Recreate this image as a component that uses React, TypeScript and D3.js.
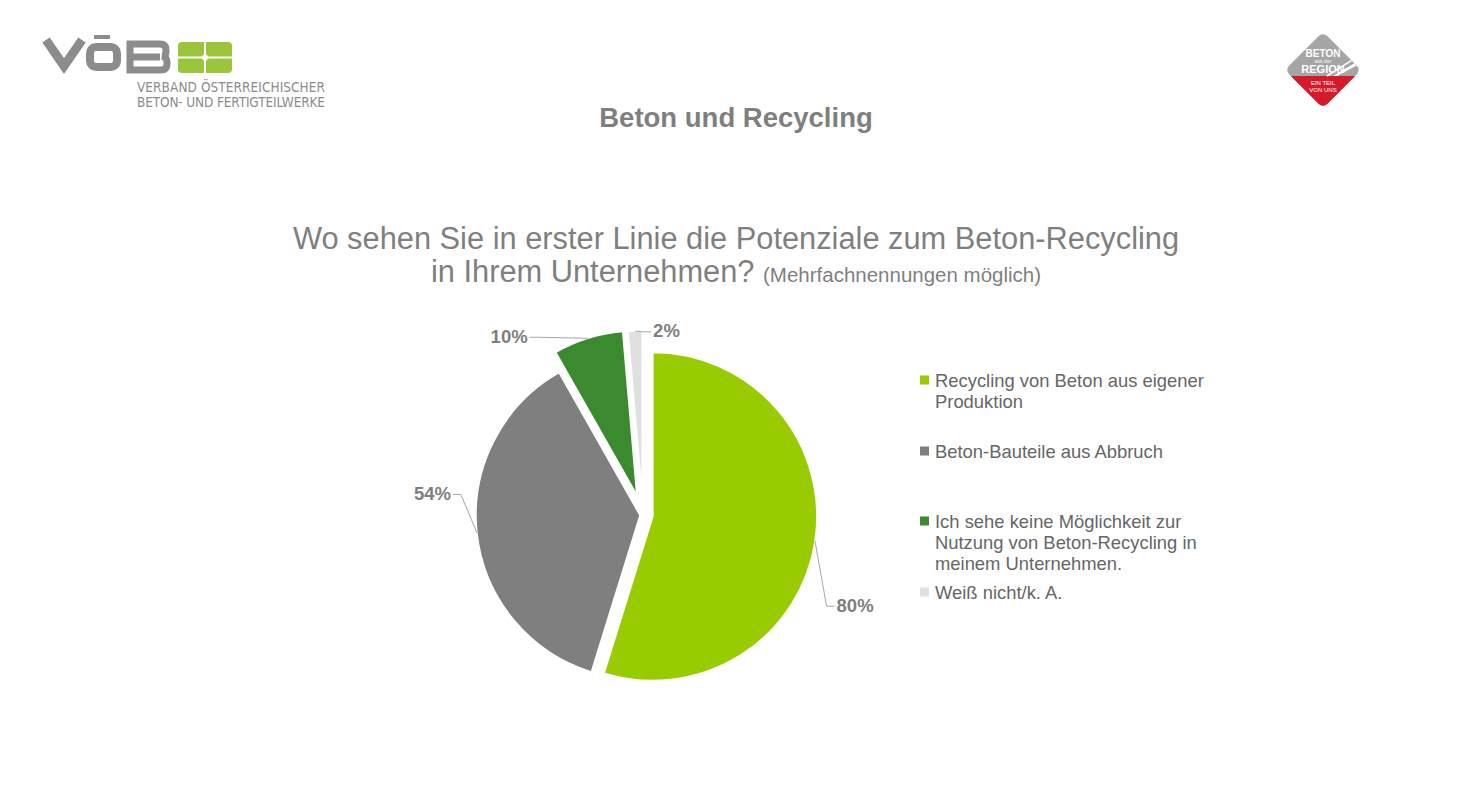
import React, { useRef, useEffect } from "react";
import * as d3 from "d3";

// survey answers (multiple answers possible)
const categories = [
  "Recycling von Beton aus eigener Produktion",
  "Beton-Bauteile aus Abbruch",
  "Ich sehe keine Möglichkeit zur Nutzung von Beton-Recycling in meinem Unternehmen.",
  "Weiß nicht/k. A.",
];
const values = [80, 54, 10, 2];
const valueLabels = ["80%", "54%", "10%", "2%"];
const legendLines = [
  ["Recycling von Beton aus eigener", "Produktion"],
  ["Beton-Bauteile aus Abbruch"],
  ["Ich sehe keine Möglichkeit zur", "Nutzung von Beton-Recycling in", "meinem Unternehmen."],
  ["Weiß nicht/k. A."],
];

// styling
const colors = ["#99cc00", "#7f7f7f", "#3b8a2f", "#e0e0e0"];
const explode = [10, 3, 21, 20];
const labelAngleShift = [17.8, 12.6, -13.4, 2.5]; // degrees
const labelRadiusFactor = [1.25, 1.117, 1.26, 1.117];
const legendTops = [380, 451, 521, 592];

const FONT = "'Liberation Sans', Arial, sans-serif";
const W = 1476;
const H = 785;

const App: React.FC = () => {
  const ref = useRef<SVGSVGElement | null>(null);

  useEffect(() => {
    document.body.style.margin = "0";
    const svg = d3.select(ref.current);
    svg.selectAll("*").remove();
    svg.attr("width", W).attr("height", H);

    svg.append("rect").attr("width", W).attr("height", H).attr("fill", "#ffffff");

    // ---- VÖB logo (left)
    const logo = svg.append("g");
    const logoGray = "#8c8c8c";
    logo
      .append("polyline")
      .attr("points", "46,40 64,66 82,40")
      .attr("fill", "none")
      .attr("stroke", logoGray)
      .attr("stroke-width", 9)
      .attr("stroke-linejoin", "miter");
    logo
      .append("rect")
      .attr("x", 90)
      .attr("y", 47)
      .attr("width", 27)
      .attr("height", 20)
      .attr("rx", 6)
      .attr("fill", "none")
      .attr("stroke", logoGray)
      .attr("stroke-width", 8);
    logo.append("rect").attr("x", 94).attr("y", 35).attr("width", 16).attr("height", 4).attr("fill", logoGray);
    logo
      .append("path")
      .attr("d", "M130,44 H160 Q166,44 166,50 V52 Q166,56 162,56 Q167,57 167,62 V64 Q167,70 161,70 H130 Z M130,57 H160")
      .attr("fill", "none")
      .attr("stroke", logoGray)
      .attr("stroke-width", 7);
    logo
      .append("rect")
      .attr("x", 178)
      .attr("y", 42)
      .attr("width", 54)
      .attr("height", 31)
      .attr("rx", 4)
      .attr("fill", "#9bc63b");
    logo.append("rect").attr("x", 204).attr("y", 42).attr("width", 2).attr("height", 31).attr("fill", "#fff");
    logo.append("rect").attr("x", 178).attr("y", 56.5).attr("width", 54).attr("height", 2).attr("fill", "#fff");
    logo
      .append("path")
      .attr("d", "M205,53 L209,57.5 L205,62 L201,57.5 Z")
      .attr("fill", "#fff");
    logo
      .append("text")
      .attr("x", 137)
      .attr("y", 92)
      .attr("font-family", "'Liberation Sans Narrow', 'DejaVu Sans Condensed', sans-serif")
      .attr("font-size", 13.5)
      .attr("fill", "#8c8c8c")
      .attr("textLength", 188)
      .text("VERBAND ÖSTERREICHISCHER");
    logo
      .append("text")
      .attr("x", 137)
      .attr("y", 107)
      .attr("font-family", "'Liberation Sans Narrow', 'DejaVu Sans Condensed', sans-serif")
      .attr("font-size", 13.5)
      .attr("fill", "#8c8c8c")
      .attr("textLength", 188)
      .text("BETON- UND FERTIGTEILWERKE");

    // ---- "Beton aus der Region" badge (right)
    const badge = svg.append("g").attr("transform", "translate(1323,70)");
    const clipId = "badgeClip";
    badge
      .append("clipPath")
      .attr("id", clipId)
      .append("rect")
      .attr("x", -27)
      .attr("y", -27)
      .attr("width", 54)
      .attr("height", 54)
      .attr("rx", 6)
      .attr("transform", "rotate(45)");
    const bc = badge.append("g").attr("clip-path", `url(#${clipId})`);
    bc.append("rect").attr("x", -45).attr("y", -45).attr("width", 90).attr("height", 90).attr("fill", "#a5a5a5");
    bc.append("rect").attr("x", -45).attr("y", 6).attr("width", 90).attr("height", 45).attr("fill", "#d7192c");
    bc.append("path").attr("d", "M10,6 L40,-12 L40,-8 L14,6 Z").attr("fill", "#fff");
    bc.append("path").attr("d", "M4,6 L40,-17").attr("stroke", "#fff").attr("stroke-width", 1.5);
    const bt = (y: number, s: number, t: string, w: number) =>
      badge
        .append("text")
        .attr("x", 0)
        .attr("y", y)
        .attr("text-anchor", "middle")
        .attr("font-family", FONT)
        .attr("font-weight", w)
        .attr("font-size", s)
        .attr("fill", "#fff")
        .text(t);
    bt(-13, 10, "BETON", 700);
    bt(-7, 5, "aus der", 400);
    bt(3, 11, "REGION", 700);
    bt(15, 6, "EIN TEIL", 400);
    bt(22, 6, "VON UNS", 400);

    // ---- titles
    svg
      .append("text")
      .attr("x", 736)
      .attr("y", 127)
      .attr("text-anchor", "middle")
      .attr("font-family", FONT)
      .attr("font-weight", 700)
      .attr("font-size", 27.5)
      .attr("fill", "#7f7f7f")
      .text("Beton und Recycling");

    svg
      .append("text")
      .attr("x", 736)
      .attr("y", 249)
      .attr("text-anchor", "middle")
      .attr("font-family", FONT)
      .attr("font-size", 30.8)
      .attr("fill", "#7f7f7f")
      .text("Wo sehen Sie in erster Linie die Potenziale zum Beton-Recycling");
    const q2 = svg
      .append("text")
      .attr("x", 736)
      .attr("y", 282)
      .attr("text-anchor", "middle")
      .attr("font-family", FONT)
      .attr("fill", "#7f7f7f");
    q2.append("tspan").attr("font-size", 30.8).text("in Ihrem Unternehmen? ");
    q2.append("tspan").attr("font-size", 20.5).text("(Mehrfachnennungen möglich)");

    // ---- pie
    const cx = 643;
    const cy = 515;
    const radius = 164;

    const pie = d3
      .pie<number>()
      .sort(null)
      .value((d) => d)(values);
    const arcGenerator = d3.arc<d3.PieArcDatum<number>>().innerRadius(0).outerRadius(radius);

    const g = svg.append("g").attr("transform", `translate(${cx},${cy})`);

    g.selectAll("path.slice")
      .data(pie)
      .enter()
      .append("path")
      .attr("class", "slice")
      .attr("d", arcGenerator)
      .attr("transform", (d, i) => {
        const m = (d.startAngle + d.endAngle) / 2;
        return `translate(${Math.sin(m) * explode[i]},${-Math.cos(m) * explode[i]})`;
      })
      .style("fill", (d, i) => colors[i])
      .style("stroke", "white")
      .style("stroke-width", 1.5);

    // leader lines + value labels
    pie.forEach((d, i) => {
      const m = (d.startAngle + d.endAngle) / 2;
      const sx = Math.sin(m) * (explode[i] + radius);
      const sy = -Math.cos(m) * (explode[i] + radius);
      const a = m + (labelAngleShift[i] * Math.PI) / 180;
      const lr = radius * labelRadiusFactor[i];
      const ax = Math.sin(a) * lr;
      const ay = -Math.cos(a) * lr;
      const side = ax < 0 ? -1 : 1;
      const ex = ax + side * 8;
      g.append("polyline")
        .attr("points", `${sx},${sy} ${ax},${ay} ${ex},${ay}`)
        .attr("fill", "none")
        .attr("stroke", "#a6a6a6")
        .attr("stroke-width", 1);
      g.append("text")
        .attr("x", ex + side * 2)
        .attr("y", ay)
        .attr("dy", "0.3em")
        .attr("text-anchor", side < 0 ? "end" : "start")
        .attr("font-family", FONT)
        .attr("font-weight", 700)
        .attr("font-size", 18.5)
        .attr("fill", "#7f7f7f")
        .text(valueLabels[i]);
    });

    // ---- legend
    const legend = svg.append("g");
    categories.forEach((c, i) => {
      const top = legendTops[i];
      legend
        .append("rect")
        .attr("x", 920)
        .attr("y", top - 4.5)
        .attr("width", 9)
        .attr("height", 9)
        .attr("fill", colors[i]);
      const t = legend
        .append("text")
        .attr("font-family", FONT)
        .attr("font-size", 18.4)
        .attr("fill", "#666666");
      legendLines[i].forEach((line, j) => {
        t.append("tspan")
          .attr("x", 935)
          .attr("y", top + j * 21)
          .attr("dy", "0.36em")
          .text(line);
      });
    });
  }, []);

  return <svg ref={ref} style={{ display: "block" }} />;
};

export default App;
